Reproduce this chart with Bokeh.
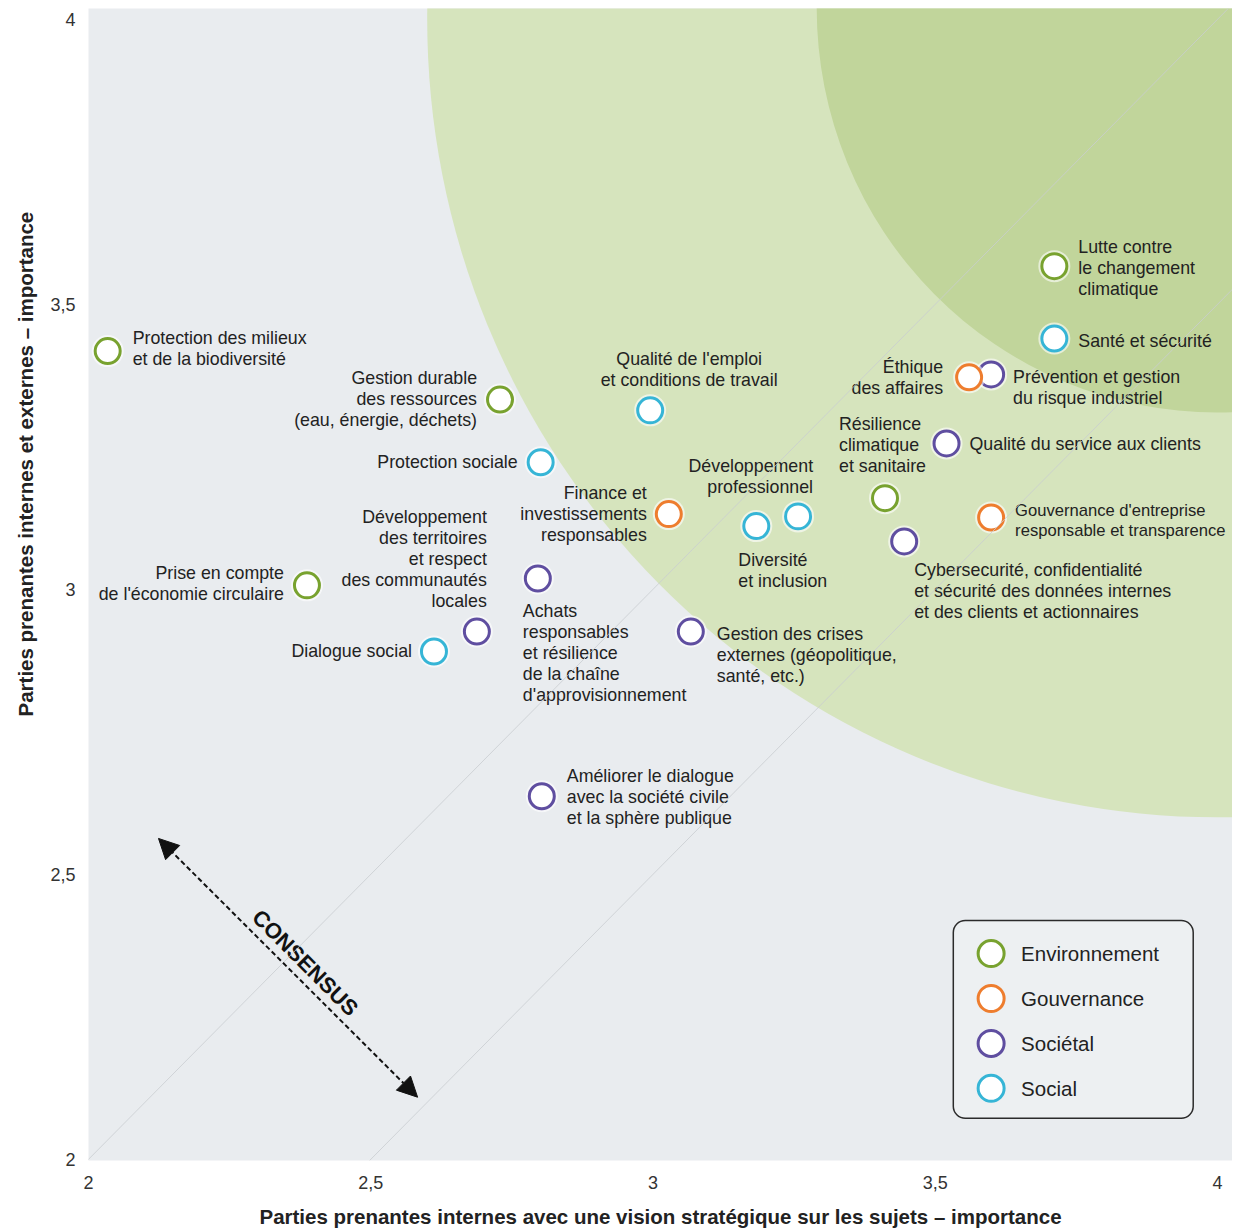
import math
from bokeh.plotting import figure
from bokeh.models import (ColumnDataSource, FixedTicker, Title, Arrow, NormalHead,
                          BoxAnnotation, Range1d, Slope)
from bokeh.core.properties import value
from bokeh.embed import file_html
from bokeh.resources import INLINE

# ---------------- data ----------------
category_names = ["Environnement", "Gouvernance", "Sociétal", "Social"]
category_colors = ["#78a22f", "#ee7d2e", "#5f4ea0", "#36b5d6"]

topic_labels = [
    "Protection des milieux\net de la biodiversité",
    "Gestion durable\ndes ressources\n(eau, énergie, déchets)",
    "Protection sociale",
    "Qualité de l'emploi\net conditions de travail",
    "Finance et\ninvestissements\nresponsables",
    "Développement\nprofessionnel",
    "Diversité\net inclusion",
    "Résilience\nclimatique\net sanitaire",
    "Qualité du service aux clients",
    "Éthique\ndes affaires",
    "Prévention et gestion\ndu risque industriel",
    "Santé et sécurité",
    "Lutte contre\nle changement\nclimatique",
    "Gouvernance d'entreprise\nresponsable et transparence",
    "Cybersecurité, confidentialité\net sécurité des données internes\net des clients et actionnaires",
    "Gestion des crises\nexternes (géopolitique,\nsanté, etc.)",
    "Achats\nresponsables\net résilience\nde la chaîne\nd'approvisionnement",
    "Développement\ndes territoires\net respect\ndes communautés\nlocales",
    "Dialogue social",
    "Prise en compte\nde l'économie circulaire",
    "Améliorer le dialogue\navec la société civile\net la sphère publique",
]
topic_category = [
    "Environnement", "Environnement", "Social", "Social", "Gouvernance",
    "Social", "Social", "Environnement", "Sociétal", "Gouvernance",
    "Sociétal", "Social", "Environnement", "Gouvernance", "Sociétal",
    "Sociétal", "Sociétal", "Sociétal", "Social", "Environnement", "Sociétal",
]
internal_importance = [
    2.034, 2.729, 2.801, 2.995, 3.028,
    3.257, 3.183, 3.411, 3.520, 3.560,
    3.599, 3.711, 3.711, 3.599, 3.445,
    3.067, 2.688, 2.796, 2.612, 2.387, 2.803,
]
external_importance = [
    3.418, 3.333, 3.223, 3.314, 3.132,
    3.128, 3.111, 3.160, 3.256, 3.372,
    3.377, 3.440, 3.567, 3.126, 3.084,
    2.926, 2.926, 3.019, 2.891, 3.007, 2.637,
]

tick_values = [2, 2.5, 3, 3.5, 4]
tick_labels = ["2", "2,5", "3", "3,5", "4"]

x_title = "Parties prenantes internes avec une vision stratégique sur les sujets – importance"
y_title = "Parties prenantes internes et externes – importance"

# ---------------- layout / style (screen px offsets for labels) ----------------
label_dx = [25, -23, -23, 39, -22, 15, -18, -46, 23, -26, 22, 24, 24, 24, 10, 26, 46, -51, -22, -23, 25]
label_dy = [-3, -1, 0, -41, 0, -40, 44, -53, 1, 0, 13, 2, 2, 3, 50, 23, 21, -20, 0, -2, 1]
label_align = ["left", "right", "right", "center", "right", "right", "left", "left", "left", "right",
               "left", "left", "left", "left", "left", "left", "left", "right", "right", "right", "left"]
label_size = ["17.8px"] * 13 + ["16.6px"] + ["17.8px"] * 7

FONT = "Liberation Sans"
BG_GRAY = "#e9ecef"
# priority zones: (center x, center y, radius, colour)
ZONES = [(4.0, 4.0, 1.4, "#d6e4bd"), (4.0, 4.02, 0.71, "#c1d59b")]

p = figure(frame_width=1144, frame_height=1152,
           x_range=Range1d(2.0, 4.0266), y_range=Range1d(1.998, 4.019),
           output_backend="svg", toolbar_location=None,
           min_border_left=88, min_border_right=0, min_border_top=8, min_border_bottom=60,
           background_fill_color=BG_GRAY, border_fill_color="white",
           outline_line_color=None)
p.grid.visible = False

for cx, cy, r, c in ZONES:
    p.ellipse(x=[cx], y=[cy], width=[2 * r], height=[2 * r], fill_color=c, line_color=None)

# diagonals
for b in (0.0, -0.5):
    p.add_layout(Slope(gradient=1, y_intercept=b, line_color="#c9cdd1", line_width=1, line_alpha=0.8))

# axes
for ax in (p.xaxis[0], p.yaxis[0]):
    ax.ticker = FixedTicker(ticks=tick_values)
    ax.major_label_overrides = {v: l for v, l in zip(tick_values, tick_labels)}
    ax.axis_line_color = None
    ax.major_tick_line_color = None
    ax.minor_tick_line_color = None
    ax.major_tick_in = 0
    ax.major_tick_out = 0
    ax.major_label_text_font = FONT
    ax.major_label_text_font_size = "18px"
    ax.major_label_text_color = "#333333"
p.xaxis.major_label_standoff = 15
p.yaxis.major_label_standoff = 13
p.xaxis.axis_label = x_title
p.xaxis.axis_label_text_font = FONT
p.xaxis.axis_label_text_font_size = "20.5px"
p.xaxis.axis_label_text_font_style = "bold"
p.xaxis.axis_label_text_color = "#222222"
p.xaxis.axis_label_standoff = 13

p.add_layout(Title(text=y_title, align="left", offset=444, standoff=22,
                   text_font=FONT, text_font_size="20.5px", text_font_style="bold",
                   text_color="#222222"), "left")

# consensus arrow
CONS_FROM = (2.124, 2.563)
CONS_TO = (2.583, 2.109)
p.add_layout(Arrow(x_start=CONS_FROM[0], y_start=CONS_FROM[1], x_end=CONS_TO[0], y_end=CONS_TO[1],
                   line_color="#111111", line_width=2, line_dash="5 3",
                   start=NormalHead(size=20, fill_color="#111111", line_color="#111111"),
                   end=NormalHead(size=20, fill_color="#111111", line_color="#111111")))
p.text(x=[2.384], y=[2.345], text=["CONSENSUS"], angle=-math.pi / 4,
       text_align="center", text_baseline="middle", text_font=value(FONT),
       text_font_size="22px", text_font_style="bold", text_color="#111111")

# points
color_of = dict(zip(category_names, category_colors))
draw_order = ["Sociétal", "Social", "Environnement", "Gouvernance"]
for cat in draw_order:
    idx = [i for i, c in enumerate(topic_category) if c == cat]
    src = ColumnDataSource(dict(x=[internal_importance[i] for i in idx],
                                y=[external_importance[i] for i in idx]))
    p.scatter("x", "y", source=src, marker="circle", size=26, fill_color="white",
              line_color="white", line_width=6, line_alpha=0.6)
    p.scatter("x", "y", source=src, marker="circle", size=25, fill_color="white",
              line_color=color_of[cat], line_width=3)

# labels
lab_src = ColumnDataSource(dict(x=internal_importance, y=external_importance, text=topic_labels,
                                dx=label_dx, dy=label_dy, align=label_align, fs=label_size))
p.text("x", "y", text="text", source=lab_src, x_offset="dx", y_offset="dy",
       text_align="align", text_baseline="middle", text_font=value(FONT),
       text_font_size="fs", text_color="#222222", text_line_height=1.05)

# legend (manual, rounded box)
LEG_BOX = dict(left=3.532, right=3.957, bottom=2.072, top=2.419)
LEG_X = 3.599
LEG_Y0 = 2.361
LEG_STEP = 0.0788
p.add_layout(BoxAnnotation(**LEG_BOX, fill_color="#edf0f2", fill_alpha=1.0, level="underlay",
                           line_color="#2b2b2b", line_alpha=1.0, line_width=1.5, border_radius=12))
leg_y = [LEG_Y0 - i * LEG_STEP for i in range(len(category_names))]
leg_src = ColumnDataSource(dict(x=[LEG_X] * len(category_names), y=leg_y,
                                name=category_names, color=category_colors))
p.scatter("x", "y", source=leg_src, marker="circle", size=26, fill_color="white",
          line_color="color", line_width=3)
p.text("x", "y", text="name", source=leg_src, x_offset=30, text_align="left",
       text_baseline="middle", text_font=value(FONT), text_font_size="20.5px",
       text_color="#222222")

open("out.html", "w").write(file_html(p, INLINE))
